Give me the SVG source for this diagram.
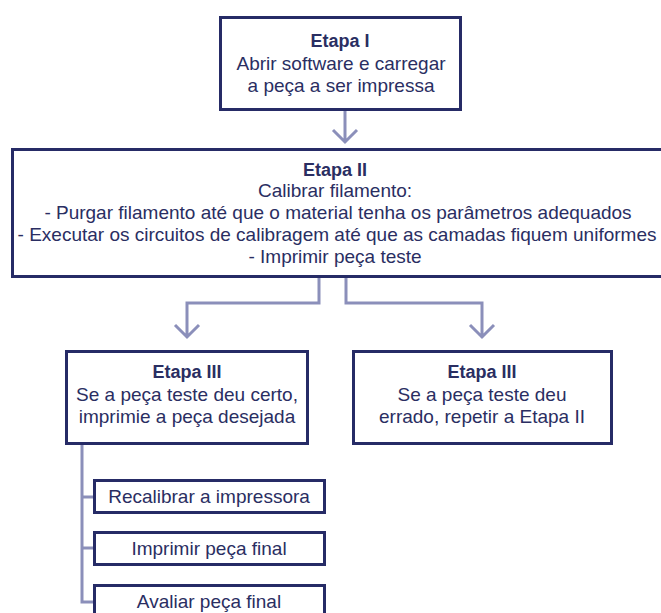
<svg xmlns="http://www.w3.org/2000/svg" width="661" height="613" viewBox="0 0 661 613">
<style>
.box{fill:#fff;stroke:#262b66;stroke-width:3}
.con{fill:none;stroke:#8b8fba;stroke-width:3}
text{font-family:"Liberation Sans",Arial,sans-serif;font-size:19px;fill:#2a2e62;text-anchor:middle}
.b{font-weight:bold;font-size:18px}
</style>
<rect width="661" height="613" fill="#fff"/>
<g id="connectors">
<path class="con" d="M345 111V142M333 130L345 142L357 130"/>
<path class="con" d="M319 278V303H187V337M175 325L187 337L199 325"/>
<path class="con" d="M346 278V303H482V337M470 325L482 337L494 325"/>
<path class="con" d="M82 445V602H94M82 497H94M82 548H94"/>
</g>
<g id="etapa1">
<rect class="box" x="220.5" y="17.5" width="240" height="92"/>
<text x="340" y="47" class="b">Etapa I</text>
<text x="341" y="70">Abrir software e carregar</text>
<text x="341" y="92">a peça a ser impressa</text>
</g>
<g id="etapa2">
<rect class="box" x="12.5" y="149.5" width="660" height="127"/>
<text x="335" y="176" class="b">Etapa II</text>
<text x="335" y="197">Calibrar filamento:</text>
<text x="338" y="219">- Purgar filamento até que o material tenha os parâmetros adequados</text>
<text x="337" y="241">- Executar os circuitos de calibragem até que as camadas fiquem uniformes</text>
<text x="335" y="263">- Imprimir peça teste</text>
</g>
<g id="etapa3a">
<rect class="box" x="66.5" y="351.5" width="241" height="92"/>
<text x="187" y="378" class="b">Etapa III</text>
<text x="187" y="401">Se a peça teste deu certo,</text>
<text x="187" y="423">imprimie a peça desejada</text>
</g>
<g id="etapa3b">
<rect class="box" x="353.5" y="351.5" width="258" height="92"/>
<text x="482" y="378" class="b">Etapa III</text>
<text x="482" y="401">Se a peça teste deu</text>
<text x="482" y="423">errado, repetir a Etapa II</text>
</g>
<g id="recalibrar">
<rect class="box" x="94.5" y="480.5" width="230" height="32"/>
<text x="209" y="503">Recalibrar a impressora</text>
</g>
<g id="imprimir">
<rect class="box" x="94.5" y="532.5" width="230" height="32"/>
<text x="209" y="555">Imprimir peça final</text>
</g>
<g id="avaliar">
<rect class="box" x="94.5" y="585.5" width="230" height="34"/>
<text x="209" y="608">Avaliar peça final</text>
</g>
</svg>
